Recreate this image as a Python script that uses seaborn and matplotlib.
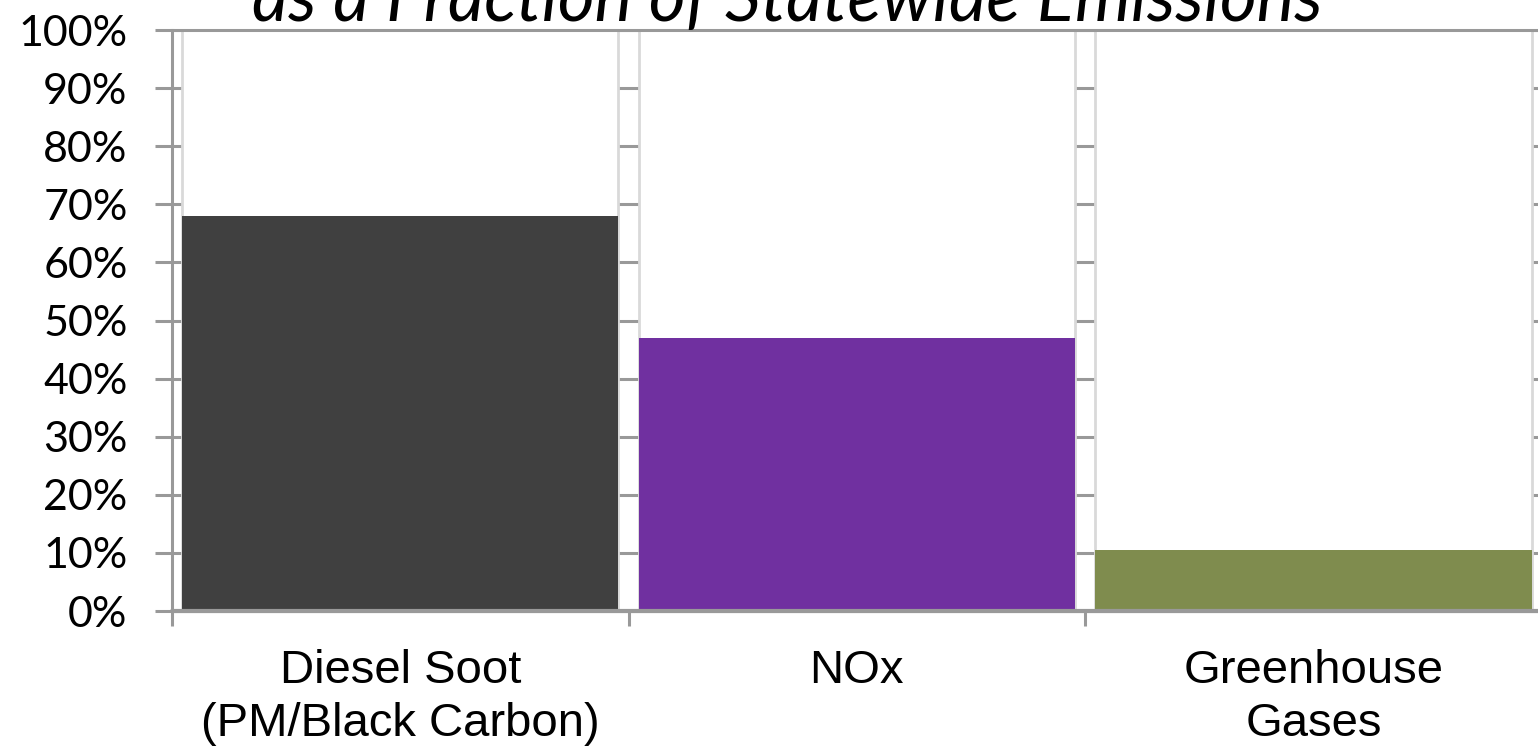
import matplotlib
matplotlib.use("Agg")
import matplotlib.pyplot as plt
import numpy as np
import pandas as pd
import seaborn as sns

# values (percent of statewide emissions)
categories = ["Diesel Soot\n(PM/Black Carbon)", "NOx", "Greenhouse\nGases"]
shares = [68.0, 47.0, 10.5]
bar_colors = ["#404040", "#7030A0", "#7F8C4E"]
y_ticks = list(range(0, 101, 10))
title_text = "as a Fraction of Statewide Emissions"

df = pd.DataFrame({"category": categories, "share": shares, "total": [100] * len(categories)})

sns.set_style("white")
plt.rcParams["font.family"] = ["Lato", "DejaVu Sans"]
plt.rcParams["text.color"] = "black"
plt.rcParams["xtick.color"] = "black"
plt.rcParams["ytick.color"] = "black"

fig = plt.figure(figsize=(15.38, 7.49), dpi=100)
ax = fig.add_axes([0.1118, 0.1842, 0.8906, 0.7757])

grid_col = "#999999"
# gridlines behind everything
for t in y_ticks:
    ax.axhline(t, color=grid_col, lw=2.2, zorder=0)

# white "remainder" boxes up to 100%
sns.barplot(data=df, x="category", y="total", color="white", width=0.956,
            edgecolor="#d9d9d9", linewidth=2, ax=ax, zorder=1, saturation=1)
# actual values
sns.barplot(data=df, x="category", y="share", hue="category", palette=bar_colors,
            width=0.956, legend=False, ax=ax, zorder=2, saturation=1, linewidth=0)

ax.set_xlim(-0.5, 2.5)
ax.set_ylim(0, 100)
ax.axhline(100, color=grid_col, lw=2.2, zorder=3, clip_on=False)
ax.axhline(0, color=grid_col, lw=3, zorder=3, clip_on=False)

ax.set_yticks(y_ticks)
ax.set_yticklabels([f"{t}%" for t in y_ticks], fontsize=31)
ax.tick_params(axis="y", direction="out", length=12, width=2.2, color=grid_col,
               labelcolor="black", pad=20, left=True)

ax.set_xticks(range(len(categories)))
ax.set_xticklabels(categories, fontsize=34, family=["Liberation Sans", "DejaVu Sans"],
                   linespacing=1.28)
ax.set_xticks([-0.5, 0.5, 1.5], minor=True)
ax.tick_params(axis="x", which="major", length=0, pad=27, labelcolor="black")
ax.tick_params(axis="x", which="minor", direction="out", length=11, width=2.2,
               color=grid_col, bottom=True)

ax.set_xlabel("")
ax.set_ylabel("")
for side in ["top", "right"]:
    ax.spines[side].set_visible(False)
ax.spines["left"].set_color(grid_col)
ax.spines["left"].set_linewidth(2.2)
ax.spines["bottom"].set_color(grid_col)
ax.spines["bottom"].set_linewidth(2.2)

fig.text(0.512, 1 - 21 / 749, title_text, ha="center", va="baseline",
         fontsize=51, style="italic", family=["Lato", "DejaVu Sans"])

fig.savefig("out.png", dpi=100)
